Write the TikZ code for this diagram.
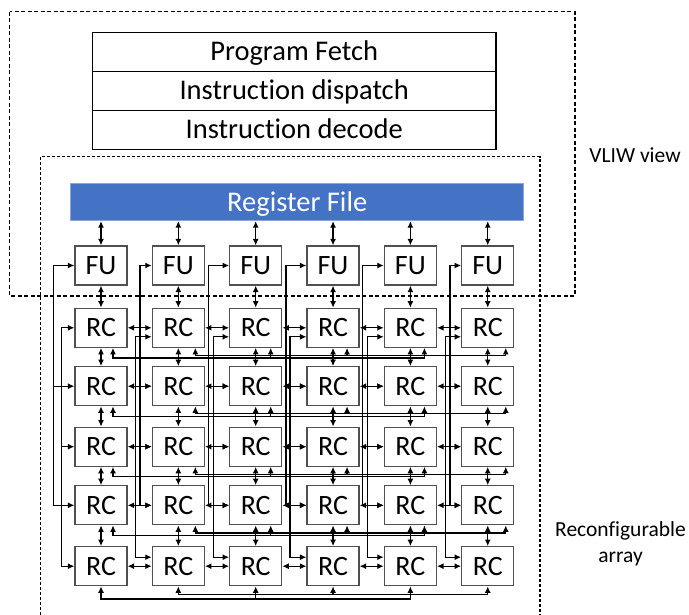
\documentclass[tikz,border=0pt]{standalone}
\usepackage{fontspec}
\setmainfont{Carlito}[RawFeature={-liga;-clig;-dlig;-calt}]
\usetikzlibrary{arrows.meta}
\definecolor{rfblue}{HTML}{4472C4}
\definecolor{rfedge}{HTML}{8EA6D8}
\definecolor{boxedge}{HTML}{505050}
\begin{document}
\begin{tikzpicture}[x=1pt,y=-1pt,
  >={Latex[length=6.5pt,width=6pt]},
  wire/.style={line width=1.3pt,black},
  arr/.style={wire,->},
  darr/.style={wire,<->},
  cell/.style={draw=boxedge,line width=1.2pt,minimum width=52pt,minimum height=39pt,
    inner sep=0pt,font=\fontsize{28}{30}\selectfont,text height=18pt,text depth=0pt},
  stage/.style={draw=black,line width=1.3pt,minimum width=403.5pt,minimum height=39pt,
    inner sep=0pt,font=\fontsize{28.5}{32}\selectfont,text height=18.35pt,text depth=0pt},
  frame/.style={line width=1.4pt,dash pattern=on 4pt off 2.5pt},
  innerframe/.style={line width=1.1pt,dash pattern=on 3pt off 2pt},
  sidelabel/.style={font=\fontsize{21.5}{26}\selectfont,inner sep=0pt},
]
\useasboundingbox (0,0) rectangle (689,615);

% control pipeline
\node[stage] (pf)  at (294.2,51.8)  {Program Fetch};
\node[stage] (idp) at (294.2,90.8)  {Instruction dispatch};
\node[stage] (idc) at (294.2,129.8) {Instruction decode};

% register file
\node[fill=rfblue,draw=rfedge,line width=1pt,minimum width=453pt,minimum height=37.5pt,
  inner sep=0pt,text=white,font=\fontsize{28.5}{32}\selectfont,text height=18.35pt,text depth=0pt]
  (rf) at (297.2,201.9) {Register File};

% functional units and reconfigurable cells
\foreach \c [evaluate=\c as \x using 101+77.35*(\c-1)] in {1,...,6} {
  \node[cell] (fu\c) at (\x,265.5) {FU};
  \foreach \r/\y in {1/327.8,2/386.2,3/446.7,4/505.3,5/566.2}
    \node[cell] (rc-\r-\c) at (\x,\y) {RC};
}

% register file <-> FU, FU <-> first RC row, vertical neighbours
\foreach \c in {1,...,6} {
  \draw[darr] (fu\c.north |- rf.south) -- (fu\c.north);
  \draw[darr] (fu\c.south) -- (rc-1-\c.north);
  \foreach \r in {1,...,4} {
    \pgfmathtruncatemacro\n{\r+1}
    \draw[darr] (rc-\r-\c.south) -- (rc-\n-\c.north);
  }
}

% horizontal neighbours
\foreach \r in {1,...,5} {
  \foreach \c in {1,...,5} {
    \pgfmathtruncatemacro\n{\c+1}
    \draw[darr] (rc-\r-\c.east) -- (rc-\r-\n.west);
  }
}

% column hop buses on the left of each column (even rows / odd rows)
\foreach \c/\fx/\rx/\o in {1/53.3/61.7/0, 2/140/135.7/9, 3/208.3/213.3/9,
                           4/286/290/9, 5/362.7/367.3/9, 6/450/445.7/9} {
  \coordinate (fl-\c) at (\fx,0);
  \coordinate (rl-\c) at (\rx,0);
  \draw[darr] (fu\c.west) -- (fl-\c |- fu\c.west) -- (fl-\c |- rc-4-\c.west) -- (rc-4-\c.west);
  \draw[arr] (fl-\c |- rc-2-\c.west) -- (rc-2-\c.west);
  \path ([yshift=-\o pt]rc-1-\c.west) coordinate (in1-\c);
  \path ([yshift=\o pt]rc-5-\c.west) coordinate (in5-\c);
  \draw[darr] (in1-\c) -- (rl-\c |- in1-\c) -- (rl-\c |- in5-\c) -- (in5-\c);
  \draw[arr] (rl-\c |- rc-3-\c.west) -- (rc-3-\c.west);
}

% row hop buses under rows 1-4 (odd columns / even columns)
\foreach \r in {1,...,4} {
  \foreach \c/\dx/\dy in {1/12/10, 2/17/7.5, 3/15/10, 4/14/7.5, 5/14/10, 6/18/7.5}
    \path ([xshift=\dx pt]rc-\r-\c.south) coordinate (t-\r-\c) ++(0,\dy) coordinate (s-\r-\c);
  \draw[darr] (t-\r-1) -- (s-\r-1) -- (s-\r-5) -- (t-\r-5);
  \draw[arr] (s-\r-3) -- (t-\r-3);
  \draw[darr] (t-\r-2) -- (s-\r-2) -- (s-\r-6) -- (t-\r-6);
  \draw[arr] (s-\r-4) -- (t-\r-4);
}

% row hop buses under the last row
\foreach \c/\dy in {1/12.6, 2/8.3, 3/12.6, 4/8.3, 5/12.6, 6/8.3}
  \path (rc-5-\c.south) coordinate (t-5-\c) ++(0,\dy) coordinate (s-5-\c);
\draw[darr] (t-5-1) -- (s-5-1) -- (s-5-5) -- (t-5-5);
\draw[arr] (s-5-3) -- (t-5-3);
\draw[darr] (t-5-2) -- (s-5-2) -- (s-5-6) -- (t-5-6);
\draw[arr] (s-5-4) -- (t-5-4);

% view frames
\draw[frame] (9.7,11.7) rectangle (575,296);
\draw[innerframe] (40.5,615) -- (40.5,156.7) -- (540,156.7) -- (540,615);

\node[sidelabel,text height=13.6pt,text depth=0pt] (vliw) at (635,156) {VLIW view};
\node[sidelabel,align=center] (rca) at (620.5,543.7) {Reconfigurable\\array};
\end{tikzpicture}
\end{document}
